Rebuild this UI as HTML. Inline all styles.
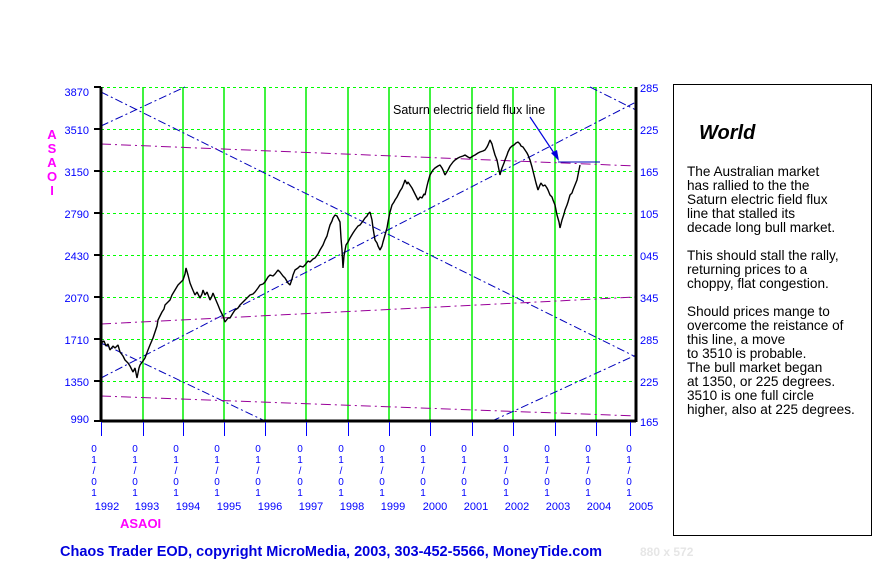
<!DOCTYPE html>
<html><head><style>
body{margin:0;background:#fff;}
svg{display:block;font-family:"Liberation Sans",Arial,sans-serif;}
</style></head><body>
<svg width="880" height="572" viewBox="0 0 880 572">
<g stroke="#00ff00" stroke-width="1" stroke-dasharray="3,3" shape-rendering="crispEdges">
<line x1="101" y1="87.5" x2="636" y2="87.5"/><line x1="101" y1="129.5" x2="636" y2="129.5"/>
<line x1="101" y1="171.5" x2="636" y2="171.5"/><line x1="101" y1="213.5" x2="636" y2="213.5"/>
<line x1="101" y1="255.5" x2="636" y2="255.5"/><line x1="101" y1="297.5" x2="636" y2="297.5"/>
<line x1="101" y1="339.5" x2="636" y2="339.5"/><line x1="101" y1="381.5" x2="636" y2="381.5"/>
</g>
<g stroke="#00ee00" stroke-width="1.5">
<line x1="143" y1="87" x2="143" y2="421"/><line x1="183" y1="87" x2="183" y2="421"/>
<line x1="224" y1="87" x2="224" y2="421"/><line x1="265" y1="87" x2="265" y2="421"/>
<line x1="306" y1="87" x2="306" y2="421"/><line x1="348" y1="87" x2="348" y2="421"/>
<line x1="389" y1="87" x2="389" y2="421"/><line x1="430" y1="87" x2="430" y2="421"/>
<line x1="472" y1="87" x2="472" y2="421"/><line x1="513" y1="87" x2="513" y2="421"/>
<line x1="555" y1="87" x2="555" y2="421"/><line x1="596" y1="87" x2="596" y2="421"/>
</g>
<g stroke="#0000bb" stroke-width="1" stroke-dasharray="8,3,2,3" fill="none">
<line x1="101" y1="126" x2="185" y2="87"/>
<line x1="101" y1="92" x2="636" y2="357"/>
<line x1="101" y1="378" x2="636" y2="102"/>
<line x1="101" y1="343" x2="265" y2="421"/>
<line x1="492" y1="421" x2="636" y2="355"/>
<line x1="590" y1="87" x2="636" y2="110"/>
</g>
<g stroke="#990099" stroke-width="1" stroke-dasharray="10,4,2,4" fill="none">
<line x1="101" y1="144" x2="636" y2="166"/>
<line x1="101" y1="324" x2="636" y2="297"/>
<line x1="101" y1="396" x2="636" y2="416"/>
</g>
<polyline fill="none" stroke="#000" stroke-width="1.4" stroke-linejoin="bevel" points="101,343 104,341 106,346 108,344 110,350 113,346 115,348 118,345 120,352 123,356 125,360 128,363 130,366 133,372 135,368 137,378 139,368 140,365 143,361 145,358 148,350 150,345 153,338 155,332 157,326 158,320 160,316 162,312 164,309 165,305 168,302 170,300 172,295 175,290 178,285 181,282 183,280 185,274 186,268 188,275 190,283 192,288 195,295 197,292 200,298 202,294 203,290 205,295 207,292 210,300 212,296 213,293 215,298 218,305 220,310 223,316 225,322 228,318 230,318 233,313 235,310 238,308 240,305 243,302 245,300 248,297 250,295 253,294 255,292 258,288 260,285 263,284 265,282 268,277 270,275 273,276 275,274 278,270 280,272 283,276 285,278 288,283 290,285 292,279 293,275 295,270 298,268 300,266 303,267 305,265 308,261 310,262 313,259 315,258 318,254 320,250 323,245 325,240 327,236 328,232 330,225 332,221 333,218 335,215 337,216 338,218 340,222 341,238 342,250 343,268 344,256 346,245 348,242 350,238 353,233 355,230 358,226 360,225 363,221 365,218 367,216 368,214 370,212 372,220 373,228 375,240 377,243 378,246 380,250 382,246 383,242 385,235 387,228 388,222 390,212 392,205 394,202 395,200 397,197 398,195 400,191 402,188 404,183 405,180 407,184 408,182 410,185 412,188 414,192 416,196 418,200 420,197 422,198 424,194 425,195 427,186 428,182 430,175 433,170 435,168 438,166 440,165 442,168 443,170 445,175 448,170 450,166 453,162 455,160 458,158 460,157 463,156 465,155 468,157 470,158 473,156 475,155 478,153 480,152 483,151 485,150 487,147 488,145 490,140 492,144 493,148 495,155 497,160 498,165 500,175 501,171 502,168 504,163 505,160 507,155 508,152 510,148 512,146 514,145 516,143 518,142 520,144 521,146 523,147 525,150 527,153 528,155 530,160 532,167 534,175 536,183 538,190 540,185 541,183 543,186 545,185 547,188 548,190 550,195 552,197 553,200 555,205 556,210 557,215 559,222 560,228 561,224 562,220 564,214 565,210 567,205 568,202 570,195 572,193 573,190 575,185 577,180 578,175 580,165"/>
<line x1="558" y1="162" x2="600" y2="162" stroke="#0000bb" stroke-width="1"/>
<line x1="530" y1="117" x2="556" y2="156" stroke="#0000dd" stroke-width="1.2"/>
<polygon points="559,161 551,153 557,150" fill="#0000dd"/>
<text x="393" y="114" font-size="12.5" fill="#000">Saturn electric field flux line</text>
<line x1="101" y1="87" x2="101" y2="422" stroke="#000" stroke-width="3"/>
<line x1="636" y1="87" x2="636" y2="422" stroke="#000" stroke-width="3"/>
<line x1="101" y1="421" x2="636" y2="421" stroke="#000" stroke-width="3"/>
<g stroke="#000" stroke-width="2">
<line x1="94" y1="87" x2="101" y2="87"/><line x1="94" y1="129" x2="101" y2="129"/><line x1="94" y1="171" x2="101" y2="171"/><line x1="94" y1="213" x2="101" y2="213"/><line x1="94" y1="255" x2="101" y2="255"/><line x1="94" y1="297" x2="101" y2="297"/><line x1="94" y1="339" x2="101" y2="339"/><line x1="94" y1="381" x2="101" y2="381"/><line x1="94" y1="421" x2="101" y2="421"/>
</g>
<g fill="#0000ff" font-size="11" text-anchor="end">
<text x="89" y="96">3870</text><text x="89" y="134">3510</text><text x="89" y="176">3150</text><text x="89" y="218">2790</text><text x="89" y="260">2430</text><text x="89" y="302">2070</text><text x="89" y="344">1710</text><text x="89" y="386">1350</text><text x="89" y="423">990</text>
</g>
<g fill="#0000ff" font-size="11">
<text x="640" y="92">285</text><text x="640" y="134">225</text><text x="640" y="176">165</text><text x="640" y="218">105</text><text x="640" y="260">045</text><text x="640" y="302">345</text><text x="640" y="344">285</text><text x="640" y="386">225</text><text x="640" y="426">165</text>
</g>
<g fill="#ff00ff" font-size="13" font-weight="bold" text-anchor="middle">
<text x="52" y="139">A</text><text x="52" y="153">S</text><text x="52" y="167">A</text><text x="52" y="181">O</text><text x="52" y="195">I</text>
</g>
<g stroke="#0000ff" stroke-width="1">
<line x1="101.5" y1="422" x2="101.5" y2="436"/><line x1="143.5" y1="422" x2="143.5" y2="436"/><line x1="183.5" y1="422" x2="183.5" y2="436"/><line x1="224.5" y1="422" x2="224.5" y2="436"/><line x1="265.5" y1="422" x2="265.5" y2="436"/><line x1="306.5" y1="422" x2="306.5" y2="436"/><line x1="348.5" y1="422" x2="348.5" y2="436"/><line x1="389.5" y1="422" x2="389.5" y2="436"/><line x1="430.5" y1="422" x2="430.5" y2="436"/><line x1="472.5" y1="422" x2="472.5" y2="436"/><line x1="513.5" y1="422" x2="513.5" y2="436"/><line x1="555.5" y1="422" x2="555.5" y2="436"/><line x1="596.5" y1="422" x2="596.5" y2="436"/><line x1="630.5" y1="422" x2="630.5" y2="436"/>
</g>
<g fill="#0000ff" font-size="10" text-anchor="middle">
<g transform="translate(94,0)"><text y="452">0</text><text y="463">1</text><text y="474">/</text><text y="485">0</text><text y="496">1</text></g>
<g transform="translate(135,0)"><text y="452">0</text><text y="463">1</text><text y="474">/</text><text y="485">0</text><text y="496">1</text></g>
<g transform="translate(176,0)"><text y="452">0</text><text y="463">1</text><text y="474">/</text><text y="485">0</text><text y="496">1</text></g>
<g transform="translate(217,0)"><text y="452">0</text><text y="463">1</text><text y="474">/</text><text y="485">0</text><text y="496">1</text></g>
<g transform="translate(258,0)"><text y="452">0</text><text y="463">1</text><text y="474">/</text><text y="485">0</text><text y="496">1</text></g>
<g transform="translate(300,0)"><text y="452">0</text><text y="463">1</text><text y="474">/</text><text y="485">0</text><text y="496">1</text></g>
<g transform="translate(341,0)"><text y="452">0</text><text y="463">1</text><text y="474">/</text><text y="485">0</text><text y="496">1</text></g>
<g transform="translate(382,0)"><text y="452">0</text><text y="463">1</text><text y="474">/</text><text y="485">0</text><text y="496">1</text></g>
<g transform="translate(423,0)"><text y="452">0</text><text y="463">1</text><text y="474">/</text><text y="485">0</text><text y="496">1</text></g>
<g transform="translate(464,0)"><text y="452">0</text><text y="463">1</text><text y="474">/</text><text y="485">0</text><text y="496">1</text></g>
<g transform="translate(506,0)"><text y="452">0</text><text y="463">1</text><text y="474">/</text><text y="485">0</text><text y="496">1</text></g>
<g transform="translate(547,0)"><text y="452">0</text><text y="463">1</text><text y="474">/</text><text y="485">0</text><text y="496">1</text></g>
<g transform="translate(588,0)"><text y="452">0</text><text y="463">1</text><text y="474">/</text><text y="485">0</text><text y="496">1</text></g>
<g transform="translate(629,0)"><text y="452">0</text><text y="463">1</text><text y="474">/</text><text y="485">0</text><text y="496">1</text></g>
</g>
<g fill="#0000ff" font-size="11" text-anchor="middle">
<text x="107" y="510">1992</text><text x="147" y="510">1993</text><text x="188" y="510">1994</text><text x="229" y="510">1995</text><text x="270" y="510">1996</text><text x="311" y="510">1997</text><text x="352" y="510">1998</text><text x="393" y="510">1999</text><text x="435" y="510">2000</text><text x="476" y="510">2001</text><text x="517" y="510">2002</text><text x="558" y="510">2003</text><text x="599" y="510">2004</text><text x="641" y="510">2005</text>
</g>
<text x="120" y="528" fill="#ff00ff" font-size="13" font-weight="bold">ASAOI</text>
<text x="60" y="556" fill="#0000dd" font-size="14.5" font-weight="bold">Chaos Trader EOD, copyright MicroMedia, 2003, 303-452-5566, MoneyTide.com</text>
<text x="640" y="556" fill="#e6e6e6" font-size="12" font-weight="bold">880 x 572</text>
<rect x="673.5" y="84.5" width="198" height="451" fill="none" stroke="#000" stroke-width="1"/>
<text x="699" y="139" font-size="20" font-weight="bold" font-style="italic" fill="#000">World</text>
<g font-size="13.6" fill="#000">
<text x="687" y="176">The Australian market</text>
<text x="687" y="190">has rallied to the the</text>
<text x="687" y="204">Saturn electric field flux</text>
<text x="687" y="218">line that stalled its</text>
<text x="687" y="232">decade long bull market.</text>
<text x="687" y="260">This should stall the rally,</text>
<text x="687" y="274">returning prices to a</text>
<text x="687" y="288">choppy, flat congestion.</text>
<text x="687" y="316">Should prices mange to</text>
<text x="687" y="330">overcome the reistance of</text>
<text x="687" y="344">this line, a move</text>
<text x="687" y="358">to 3510 is probable.</text>
<text x="687" y="372">The bull market began</text>
<text x="687" y="386">at 1350, or 225 degrees.</text>
<text x="687" y="400">3510 is one full circle</text>
<text x="687" y="414">higher, also at 225 degrees.</text>
</g>
</svg>
</body></html>
